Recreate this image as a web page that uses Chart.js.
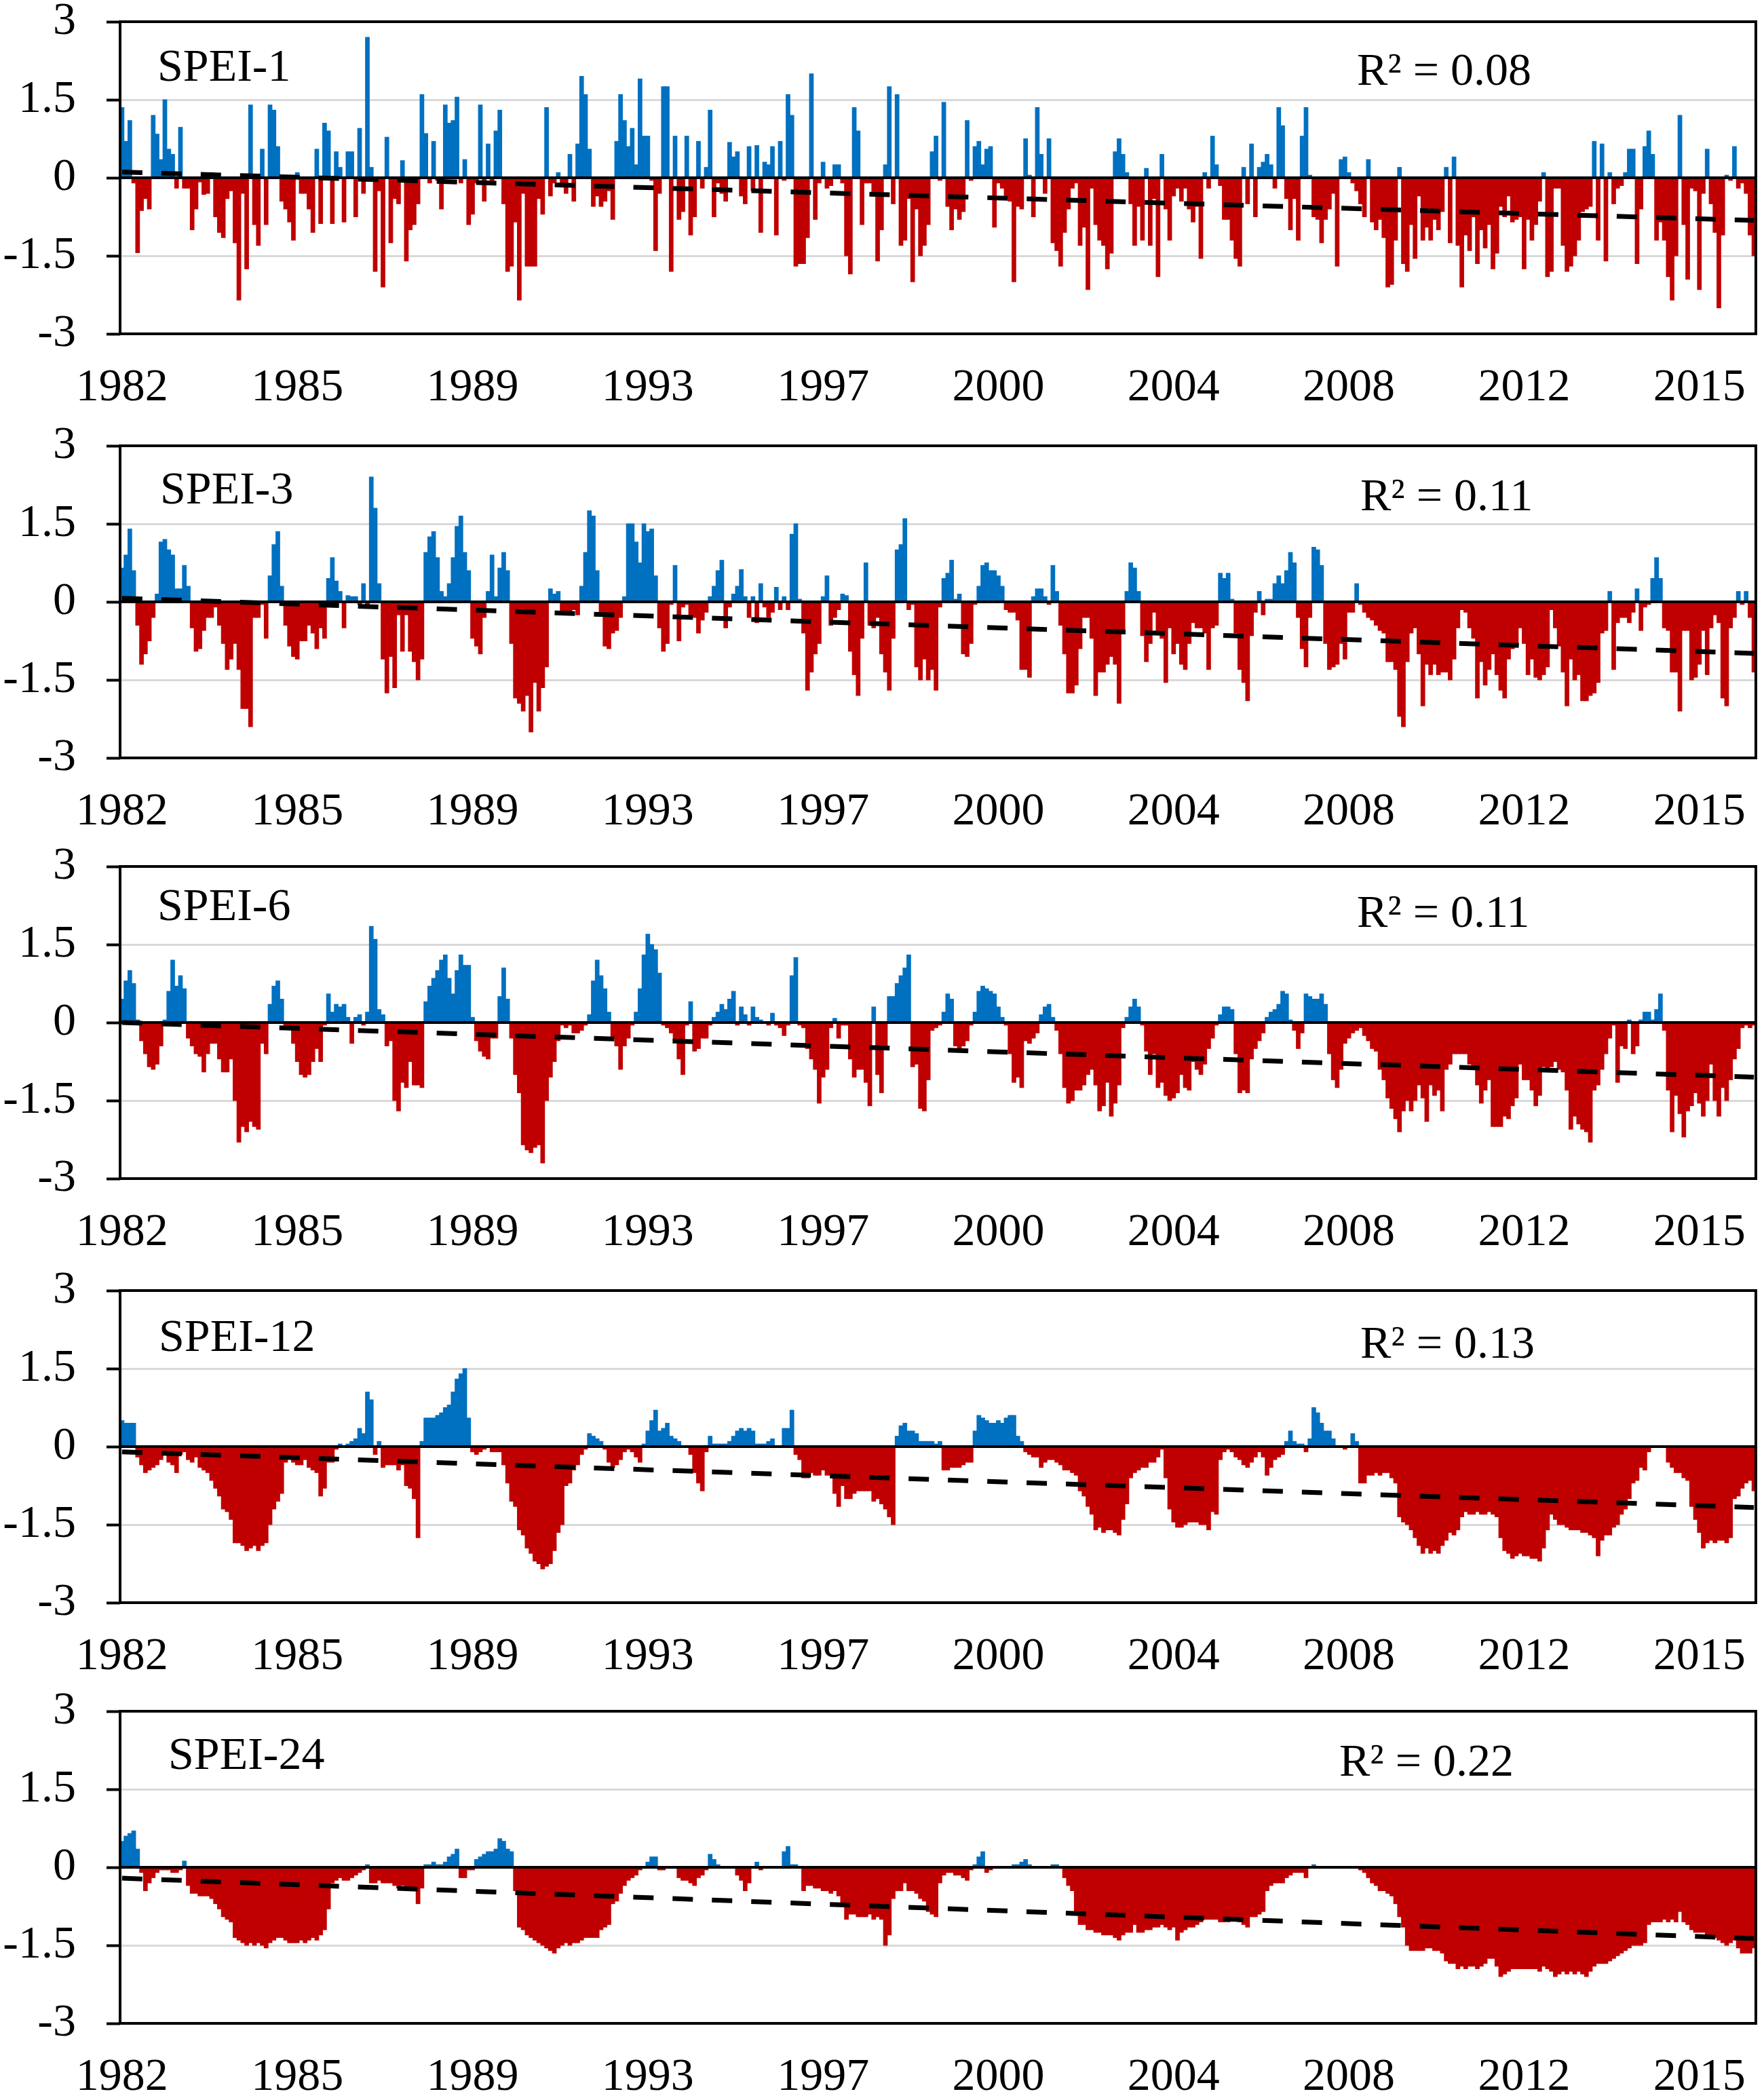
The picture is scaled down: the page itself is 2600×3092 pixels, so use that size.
<!DOCTYPE html>
<html>
<head>
<meta charset="utf-8">
<script src="https://cdn.jsdelivr.net/npm/chart.js@4.4.0/dist/chart.umd.min.js"></script>
<style>
  body { margin: 0; width: 2600px; height: 3092px; overflow: hidden; background: #fff; }
  canvas { position: absolute; left: 0; }
</style>
</head>
<body>
<canvas id="c0" width="2600" height="622" style="top:0px"></canvas>
<canvas id="c1" width="2600" height="622" style="top:625px"></canvas>
<canvas id="c2" width="2600" height="622" style="top:1245px"></canvas>
<canvas id="c3" width="2600" height="622" style="top:1870px"></canvas>
<canvas id="c4" width="2600" height="622" style="top:2490px"></canvas>
<script>
// monthly SPEI values, Jan 1982 .. Dec 2016 (420 months)
const monthCount = 420;
const firstYear = 1982;
const yearTicks = ['1982', '1985', '1989', '1993', '1997', '2000', '2004', '2008', '2012', '2015'];
const tickEvery = 45;

const panelNames = ['SPEI-1', 'SPEI-3', 'SPEI-6', 'SPEI-12', 'SPEI-24'];
const r2Values = ['0.08', '0.11', '0.11', '0.13', '0.22'];
const trendStart = [0.11, 0.07, 0.0, -0.1, -0.21];
const trendEnd = [-0.82, -0.99, -1.05, -1.17, -1.37];

const spei1 = [
  1.35,0.7,1.1,-0.1,-1.44,-0.63,-0.4,-0.6,1.2,0.84,0.35,1.5,0.55,0.45,-0.2,0.97,-0.2,-0.2,-1.0,-0.6,
  -0.08,-0.32,-0.3,0.1,-0.75,-1.05,-1.15,-0.4,-0.25,-1.25,-2.35,-0.3,-1.75,1.4,-0.9,-1.3,0.55,-0.9,1.4,
  1.3,0.6,-0.45,-0.6,-0.85,-1.2,0.1,-0.3,-0.3,-0.6,-1.05,0.55,-0.88,1.05,0.9,-0.88,0.5,0.2,-0.85,0.5,
  0.5,-0.75,0.95,-0.3,2.7,0.2,-1.8,-0.25,-2.1,0.78,-1.25,-0.4,-0.5,0.33,-1.6,-1.0,-0.9,-0.5,1.6,0.85,
  -0.1,0.7,-0.05,-0.6,1.4,1.05,1.1,1.55,-0.1,0.35,-0.9,-0.7,-0.1,1.4,-0.45,0.65,-0.1,0.9,1.3,-0.5,
  -1.8,-1.7,-0.85,-2.35,-0.3,-1.7,-1.7,-1.7,-0.4,-0.7,1.35,-0.35,-0.1,0.1,-0.15,-0.3,0.45,-0.45,0.65,
  1.95,1.6,0.55,-0.55,-0.35,-0.55,-0.45,-0.25,-0.8,0.7,1.6,1.1,0.6,0.95,0.25,1.9,0.8,0.8,-0.05,-1.4,
  -0.3,1.75,1.75,-1.8,0.8,-0.8,-0.65,0.8,-1.1,-0.75,0.7,-0.2,0.2,1.3,-0.75,-0.1,-0.3,-0.45,0.68,0.4,
  0.5,-0.35,-0.5,0.6,-0.25,0.62,-1.05,0.3,0.25,0.6,-1.1,0.7,-0.05,1.6,1.2,-1.7,-1.65,-1.65,-1.15,2.0,
  -0.8,-0.1,0.3,-0.2,-0.15,0.25,0.25,-0.1,-1.5,-1.85,1.35,0.9,-0.9,-0.1,-0.1,-0.3,-1.6,-1.0,
  0.25,1.75,-0.5,1.6,-1.3,-1.2,-0.4,-2.0,-0.6,-1.5,
  -1.3,-0.9,0.5,0.8,-0.05,1.45,-0.55,-1.0,-0.6,-0.8,
  -0.65,1.1,-0.05,0.6,0.7,0.25,0.55,0.6,-0.95,-0.1,
  -0.2,-0.4,-0.45,-2.0,-0.55,-0.6,0.75,0.05,-0.75,1.35,
  0.45,-0.3,0.75,-1.25,-1.4,-1.7,-1.05,-0.6,-0.2,-0.1,
  -1.3,-0.95,-2.15,-0.2,-0.9,-1.2,-1.3,-1.75,-1.45,0.5,
  0.75,0.45,0.1,-0.5,-1.3,-0.55,-1.2,0.18,-1.3,-0.4,
  -1.9,0.45,-0.6,-1.2,-0.35,-0.2,-0.45,-0.2,-0.6,-0.85,
  -0.55,-1.55,0.1,-0.2,0.8,0.25,-0.15,-0.8,-0.8,-1.2,
  -1.55,-1.7,0.2,-0.5,0.65,-0.75,0.2,0.3,0.45,0.25,
  -0.2,1.35,1.0,-0.4,-1.0,-0.4,-1.2,0.8,1.35,0.05,
  -0.75,-0.8,-1.25,-0.8,-0.6,-0.3,-1.7,0.35,0.4,0.1,
  -0.1,-0.25,-0.5,-0.75,0.35,-0.85,-1.0,-0.8,-1.15,-2.1,
  -2.05,-1.2,0.2,-1.65,-1.8,-0.9,-1.55,-0.35,-1.2,-0.95,
  -1.2,-0.8,-1.0,-0.65,0.2,-1.25,0.4,-1.3,-2.1,-1.1,
  -1.4,-0.75,-1.65,-1.0,-1.35,-0.9,-1.75,-1.45,-0.55,-0.75,
  -0.35,-0.85,-0.8,-0.75,-1.75,-0.8,-1.2,-0.9,-0.45,0.1,
  -1.9,-1.8,-0.2,-0.2,-1.3,-1.8,-1.7,-1.5,-1.2,-0.65,
  -0.6,-0.55,0.7,-1.2,0.65,-1.6,0.1,-0.5,-0.2,-0.15,
  0.1,0.55,0.55,-1.65,-0.6,0.6,0.9,0.45,-1.2,-0.85,
  -1.2,-1.9,-2.35,-1.5,1.2,-0.9,-1.95,-0.2,-0.25,-2.15,
  -0.3,0.55,-0.5,-1.05,-2.5,-1.1,0.05,-0.05,0.6,-0.2,
  -0.1,-0.3,-1.1,-1.5
];

const spei3 = [
  0.65,0.9,1.4,0.6,-0.45,-1.2,-1.0,-0.75,-0.3,0.15,
  1.15,1.2,1.0,0.9,0.25,0.25,0.7,0.3,-0.5,-0.95,
  -0.9,-0.55,-0.3,-0.3,-0.1,-0.45,-0.8,-1.3,-1.1,-0.8,
  -1.3,-2.05,-2.05,-2.4,-0.3,-0.3,-0.05,-0.7,0.5,1.1,
  1.35,0.3,-0.45,-0.85,-1.05,-1.1,-0.75,-0.75,-0.45,-0.6,
  -0.9,-0.5,-0.7,0.45,0.85,0.4,0.2,-0.5,0.12,0.1,
  0.1,-0.05,0.35,-0.1,2.4,1.8,0.35,-1.1,-1.75,-1.05,
  -1.65,-0.25,-0.95,-0.25,-0.95,-1.15,-1.5,-1.1,0.95,1.25,
  1.35,0.85,0.2,0.1,0.35,0.85,1.45,1.65,0.95,0.6,
  -0.7,-0.85,-1.0,-0.3,0.2,0.9,0.1,0.65,0.95,0.6,
  -0.8,-1.85,-1.95,-2.1,-1.8,-2.5,-1.55,-2.1,-1.65,-1.25,
  0.25,0.15,0.2,-0.2,-0.25,-0.2,-0.15,-0.25,0.3,
  0.95,1.75,1.65,0.6,-0.25,-0.85,-0.9,-0.6,-0.55,-0.3,
  0.1,1.5,1.5,1.15,0.75,1.5,1.35,1.4,0.5,-0.5,
  -0.95,-0.8,-0.05,0.7,-0.75,-0.1,-0.05,-0.3,-0.3,-0.6,
  -0.35,-0.2,0.1,0.3,0.6,0.8,-0.5,-0.1,0.15,0.3,
  0.62,0.1,-0.3,0.1,-0.4,0.35,-0.1,-0.3,-0.2,0.28,
  -0.15,0.1,-0.15,1.3,1.5,0.05,-0.6,-1.7,-1.35,-1.0,
  -0.8,0.1,0.5,-0.45,-0.3,-0.15,0.15,0.12,-0.95,-1.4,
  -1.8,-0.7,0.75,-0.45,-0.5,-0.3,-1.0,
  -1.35,-1.7,-0.7,1.0,1.1,1.6,-0.15,-0.05,-1.25,-1.5,
  -1.1,-1.5,-1.3,-1.7,-0.1,0.45,0.55,0.8,0.05,0.15,
  -1.0,-1.05,-0.8,-0.05,0.3,0.7,0.75,0.6,0.6,0.5,
  0.3,-0.15,-0.2,-0.2,-0.35,-1.3,-1.3,-1.45,0.1,0.25,
  0.25,0.1,-0.05,0.7,0.2,-0.45,-1.0,-1.75,-1.75,-1.6,
  -0.9,-0.3,-0.3,-0.7,-1.8,-1.35,-1.35,-1.2,-1.05,-1.2,
  -1.95,-0.6,0.2,0.75,0.65,0.2,-0.65,-1.15,-0.8,-0.2,
  -0.6,-0.7,-1.55,-0.5,-1.0,-0.8,-1.2,-1.3,-0.8,-0.4,
  -0.5,-0.5,-0.6,-1.3,-0.5,-0.45,0.55,0.45,0.55,0.05,
  -0.6,-1.3,-1.55,-1.9,-0.65,-0.2,0.2,-0.25,0.05,0.05,
  0.35,0.5,0.35,0.6,0.95,0.75,-0.3,-0.9,-1.25,-0.3,
  1.05,1.0,0.7,-0.8,-1.3,-1.25,-1.2,-0.8,-1.1,-0.2,
  -0.2,0.35,-0.05,-0.2,-0.3,-0.35,-0.45,-0.55,-0.6,-1.15,
  -1.15,-1.3,-2.2,-2.4,-1.15,-0.6,-0.5,-1.0,-2.0,-1.2,
  -1.4,-1.2,-1.4,-1.35,-1.35,-1.5,-1.1,-0.5,-0.15,-0.2,
  -0.5,-0.7,-1.85,-1.15,-1.6,-1.3,-1.0,-1.4,-1.7,-1.85,
  -1.1,-0.9,-0.8,-0.5,-0.8,-1.4,-1.1,-1.45,-1.5,-1.4,
  -1.25,-0.15,-0.5,-0.85,-1.35,-2.0,-1.1,-1.5,-1.4,-1.9,
  -1.9,-1.8,-1.75,-1.55,-0.6,-0.55,0.2,-1.3,-0.4,-0.3,
  -0.3,-0.4,-0.2,0.25,-0.55,-0.1,-0.05,0.45,0.85,0.45,
  -0.5,-0.55,-1.35,-1.35,-2.1,-0.55,-0.55,-1.5,-1.45,-1.2,
  -0.55,-1.4,-0.5,-0.25,-0.4,-1.85,-2.0,-0.5,-0.3,0.2,
  -0.05,0.2,-0.3,-1.35
];

const spei6 = [
  0.45,0.8,1.0,0.75,0.05,-0.35,-0.6,-0.85,-0.9,-0.8,
  -0.45,0.05,0.6,1.2,0.7,0.9,0.65,-0.3,-0.45,-0.6,
  -0.65,-0.95,-0.6,-0.4,-0.4,-0.7,-0.95,-0.95,-0.7,-1.5,
  -2.3,-2.0,-2.1,-1.9,-2.0,-2.05,-0.4,-0.6,0.35,0.7,
  0.8,0.45,-0.1,-0.1,-0.4,-0.75,-1.0,-1.05,-1.0,-0.75,
  -0.5,-0.75,-0.05,0.55,0.2,0.35,0.3,0.35,0.1,-0.4,
  0.1,0.15,-0.05,0.2,1.85,1.6,0.25,0.15,-0.45,-0.35,
  -1.5,-1.7,-1.15,-1.25,-0.75,-1.2,-1.2,-1.25,0.4,0.7,
  0.85,1.0,1.2,1.3,0.85,0.55,1.0,1.3,1.1,1.1,
  0.1,-0.35,-0.55,-0.65,-0.7,-0.3,-0.3,0.5,1.05,0.45,
  -0.3,-1.0,-1.35,-2.35,-2.45,-2.5,-2.4,-2.35,-2.7,-1.5,
  -1.05,-0.75,-0.35,-0.05,-0.1,-0.05,-0.2,-0.2,-0.15,-0.05,
  0.15,0.8,1.2,0.9,0.65,0.2,-0.3,-0.45,-0.9,-0.45,
  -0.3,-0.05,0.2,0.65,1.3,1.7,1.5,1.4,0.95,-0.05,
  -0.1,-0.2,-0.35,-0.7,-1.0,-0.05,0.4,-0.55,-0.5,-0.3,
  -0.3,-0.05,0.1,0.2,0.35,0.25,0.45,0.6,-0.05,0.3,
  0.15,-0.05,0.3,0.1,0.05,-0.02,-0.05,0.18,-0.05,-0.1,
  -0.25,-0.05,0.9,1.25,-0.05,-0.1,-0.5,-0.7,-0.9,-1.55,
  -1.05,-0.9,-0.1,0.08,-0.3,-0.05,-0.05,-0.7,-1.05,-0.9,
  -0.9,-1.15,-1.6,0.3,
  -1.0,-1.35,-0.45,0.5,0.5,0.75,0.9,1.05,1.3,-0.85,
  -0.8,-1.65,-1.7,-1.1,-0.15,-0.1,-0.05,0.2,0.55,0.45,
  -0.45,-0.5,-0.45,-0.35,-0.05,0.2,0.6,0.7,0.65,0.6,
  0.55,0.3,0.1,-0.05,-0.6,-1.15,-1.05,-1.25,-0.35,-0.4,-0.3,
  -0.2,0.15,0.3,0.35,0.1,-0.15,-0.6,-1.25,-1.55,-1.5,
  -1.3,-1.3,-1.2,-1.0,-0.9,-1.2,-1.7,-1.6,-1.15,-1.8,
  -1.55,-1.2,-0.1,0.1,0.3,0.45,0.3,-0.05,-0.55,-1.0,
  -0.6,-1.25,-1.15,-1.4,-1.5,-1.45,-1.35,-1.0,-1.25,-1.3,
  -0.75,-0.9,-1.0,-0.8,-0.5,-0.3,-0.05,0.15,0.3,0.3,0.25,
  -0.6,-1.35,-1.3,-1.35,-0.7,-0.5,-0.35,-0.2,0.1,0.2,
  0.25,0.35,0.6,0.55,0.05,-0.15,-0.5,-0.2,0.55,0.5,
  0.45,0.45,0.55,0.35,-0.6,-1.1,-1.25,-0.9,-0.4,-0.3,
  -0.2,-0.15,-0.1,-0.25,-0.35,-0.5,-0.55,-0.9,-1.1,-1.45,-1.65,
  -1.85,-2.1,-1.7,-1.5,-1.7,-1.5,-1.2,-1.45,-1.9,-1.2,
  -1.4,-1.3,-1.7,-0.9,-0.8,-0.6,-0.6,-0.6,-0.6,-0.8,
  -0.9,-1.2,-1.55,-1.3,-1.1,-2.0,-2.0,-2.0,-1.8,-1.85,
  -1.6,-1.45,-0.8,-1.1,-1.1,-1.3,-1.6,-1.4,-0.85,-0.9,-0.85,
  -0.75,-0.9,-0.95,-1.3,-2.05,-1.8,-1.95,-2.05,-2.1,-2.3,
  -1.3,-1.2,-0.9,-0.6,-0.3,-0.05,-1.15,-0.45,-0.5,0.05,
  -0.6,-0.45,0.05,0.2,0.2,0.05,0.25,0.55,-0.15,-1.3,
  -2.1,-1.4,-1.75,-2.2,-1.7,-1.6,-1.35,-1.55,-1.8,-1.5,-0.8,
  -1.5,-1.8,-1.25,-1.5,-1.1,-0.7,-0.5,-0.1,-0.05,-0.1,-0.05
];

const spei12 = [
  0.5,0.45,0.45,0.45,-0.2,-0.35,-0.5,-0.45,-0.4,-0.35,
  -0.25,-0.1,-0.3,-0.35,-0.5,-0.15,-0.1,-0.25,-0.3,-0.2,
  -0.4,-0.45,-0.5,-0.65,-0.8,-0.95,-1.2,-1.25,-1.4,-1.85,
  -1.85,-1.9,-2.0,-1.95,-1.9,-2.0,-1.9,-1.85,-1.5,-1.2,
  -1.05,-0.9,-0.3,-0.2,-0.3,-0.35,-0.35,-0.25,-0.4,-0.45,
  -0.5,-0.95,-0.8,-0.3,-0.3,-0.05,0.05,0.02,0.05,0.1,
  0.15,0.35,0.25,1.05,0.9,-0.15,0.1,-0.4,-0.35,-0.35,
  -0.35,-0.45,-0.35,-0.75,-0.8,-1.0,-1.75,0.1,0.55,0.55,
  0.55,0.6,0.65,0.75,0.8,1.05,1.3,1.4,1.5,0.55,
  -0.1,-0.15,-0.1,-0.05,-0.02,-0.1,-0.1,-0.1,-0.35,-0.7,
  -1.05,-1.15,-1.6,-1.7,-1.95,-2.05,-2.2,-2.25,-2.35,-2.3,
  -2.25,-2.0,-1.65,-1.5,-0.75,-0.7,-0.45,-0.35,-0.15,-0.05,
  0.25,0.2,0.15,0.1,-0.05,-0.3,-0.4,-0.35,-0.25,-0.1,
  -0.05,-0.1,-0.2,-0.3,0.05,0.3,0.5,0.7,0.3,0.35,
  0.45,0.2,0.15,0.1,0.02,0.01,-0.15,-0.5,-0.7,-0.85,
  -0.1,0.2,0.05,0.05,0.05,0.05,0.1,0.2,0.3,0.35,
  0.3,0.35,0.3,0.05,0.05,0.05,0.1,0.15,0.01,-0.02,
  0.35,0.35,0.7,-0.15,-0.25,-0.6,-0.6,-0.5,-0.55,-0.55,
  -0.45,-0.55,-0.55,-0.9,-1.15,-0.75,-1.0,-1.0,-0.9,-0.85,
  -0.85,-0.85,-0.85,-1.05,-1.0,
  -1.1,-1.2,-1.35,-1.5,
  0.2,0.4,0.45,0.3,0.3,0.25,0.1,0.1,0.1,0.1,0.05,0.1,
  -0.45,-0.45,-0.4,-0.4,-0.4,-0.35,-0.3,-0.3,
  0.3,0.6,0.55,0.5,0.45,0.45,0.5,0.45,0.55,0.6,0.6,0.2,0.1,
  -0.1,
  -0.15,-0.2,-0.2,-0.4,-0.3,-0.25,-0.25,-0.3,-0.35,-0.45,
  -0.45,-0.5,-0.55,-0.85,-0.95,-1.15,-1.3,-1.6,-1.55,-1.65,
  -1.6,-1.6,-1.65,-1.7,-1.4,-1.1,-0.6,-0.5,-0.45,-0.4,
  -0.4,-0.3,-0.3,-0.2,-0.05,
  -0.6,-1.2,-1.45,-1.55,-1.55,-1.5,-1.45,-1.45,-1.45,-1.5,
  -1.5,-1.6,-1.25,-1.3,-0.25,-0.1,-0.05,-0.1,-0.2,-0.25,
  -0.35,-0.4,-0.3,-0.2,-0.1,-0.2,-0.55,-0.4,-0.25,-0.2,
  -0.15,0.1,0.3,0.1,0.05,0.05,-0.1,
  0.15,0.75,0.65,0.45,0.3,0.3,0.15,0.02,0.02,-0.05,0.01,0.25,0.1,
  -0.7,-0.7,-0.55,-0.55,-0.5,-0.55,-0.5,-0.5,-0.6,-0.7,
  -1.35,-1.45,-1.5,-1.6,-1.75,-1.9,-2.05,-1.95,-2.05,-2.0,
  -2.05,-1.9,-1.8,-1.65,-1.7,-1.6,-1.35,-1.25,-1.3,-1.3,
  -1.25,-1.3,-1.3,-1.25,-1.3,-1.35,-1.75,-2.0,-2.05,-2.15,
  -2.1,-2.05,-2.1,-2.1,-2.15,-2.15,-2.2,-1.95,-1.6,-1.3,
  -1.4,-1.5,-1.5,-1.55,-1.6,-1.6,-1.6,-1.65,-1.65,-1.7,
  -1.75,-2.1,-1.8,-1.7,-1.7,-1.55,-1.5,-1.3,-1.2,-1.0,
  -0.7,-0.65,-0.4,-0.45,-0.1,
  0,0,0,0,
  -0.3,-0.4,-0.5,-0.5,-0.6,-0.65,-1.15,-1.4,-1.65,-1.95,
  -1.85,-1.8,-1.85,-1.8,-1.8,-1.85,-1.75,-1.0,-0.95,-0.8,
  -0.7,-0.65,-0.85
];

const spei24 = [
  0.5,0.6,0.65,0.7,0.35,-0.1,-0.45,-0.3,-0.2,-0.1,
  -0.05,-0.05,-0.05,-0.1,-0.1,-0.05,0.12,-0.35,-0.5,-0.5,
  -0.55,-0.55,-0.55,-0.6,-0.7,-0.8,-0.95,-1.0,-1.05,-1.35,
  -1.4,-1.45,-1.5,-1.45,-1.5,-1.45,-1.5,-1.55,-1.45,-1.4,
  -1.35,-1.35,-1.4,-1.45,-1.45,-1.45,-1.4,-1.45,-1.4,-1.35,
  -1.4,-1.3,-1.2,-0.8,-0.3,-0.25,-0.2,-0.25,-0.25,-0.2,
  -0.15,-0.1,-0.05,0.05,-0.3,-0.3,-0.25,-0.3,-0.3,-0.3,
  -0.35,-0.4,-0.35,-0.4,-0.4,-0.45,-0.7,-0.4,0.05,0.05,
  0.1,0.05,0.05,0.1,0.2,0.25,0.35,-0.2,-0.2,-0.05,
  -0.05,0.15,0.2,0.25,0.3,0.3,0.35,0.55,0.5,0.35,
  0.3,-0.45,-1.15,-1.2,-1.3,-1.35,-1.4,-1.45,-1.5,-1.55,
  -1.6,-1.65,-1.55,-1.5,-1.45,-1.5,-1.45,-1.45,-1.4,-1.35,
  -1.35,-1.35,-1.35,-1.2,-1.15,-1.1,-0.7,-0.65,-0.5,-0.35,
  -0.25,-0.2,-0.15,-0.05,0.0,0.1,0.2,0.2,-0.05,-0.05,
  0.0,-0.02,0.0,-0.2,-0.25,-0.25,-0.3,-0.35,-0.2,-0.15,
  -0.05,0.25,0.15,0.05,0.02,0.0,0.0,0.0,-0.15,-0.25,
  -0.45,-0.3,0.0,0.1,-0.05,0.0,0.0,0.0,0.0,0.0,
  0.3,0.4,0.05,0.05,0.0,-0.45,-0.35,-0.35,-0.4,-0.4,
  -0.45,-0.45,-0.5,-0.45,-0.55,-0.75,-1.0,-0.9,-0.9,-0.95,
  -0.95,-0.95,-0.9,-1.0,
  -0.95,-1.0,-1.5,-1.3,-0.6,-0.45,-0.45,-0.3,-0.45,-0.45,
  -0.5,-0.6,-0.65,-0.85,-0.9,-0.95,-0.3,-0.15,-0.1,-0.1,
  -0.15,-0.15,-0.2,-0.25,-0.05,0.05,0.2,0.3,-0.1,-0.05,
  0.0,-0.02,0.0,0.0,0.0,0.05,0.05,0.1,0.15,0.05,
  0.0,0.0,0.0,0.0,0.0,0.05,0.05,0.0,-0.2,-0.35,
  -0.45,-0.9,-1.1,-1.1,-1.2,-1.2,-1.25,-1.25,-1.3,-1.3,
  -1.3,-1.35,-1.4,-1.3,-1.25,-1.25,-1.1,-1.25,-1.25,-1.2,
  -1.2,-1.15,-1.15,-1.1,-1.15,-1.2,-1.15,-1.4,-1.25,-1.2,
  -1.15,-1.15,-1.1,-1.05,-1.0,-1.0,-1.0,-1.0,-1.05,-1.05,
  -1.05,-1.0,-1.0,-1.05,-1.1,-1.15,-0.95,-0.95,-0.9,-0.85,
  -0.45,-0.35,-0.3,-0.3,-0.3,-0.2,-0.15,-0.1,-0.1,-0.1,
  -0.2,-0.02,0.05,-0.02,0.0,-0.02,0.0,-0.02,0.02,-0.02,
  -0.02,0.0,0.02,-0.02,-0.05,-0.1,-0.2,-0.3,-0.35,-0.45,
  -0.45,-0.5,-0.55,-0.7,-0.95,-1.15,-1.5,-1.6,-1.6,-1.6,
  -1.6,-1.55,-1.55,-1.6,-1.6,-1.65,-1.8,-1.85,-1.85,-1.95,
  -1.9,-1.95,-1.9,-1.9,-1.95,-1.9,-1.85,-1.75,-1.75,-1.9,
  -2.1,-2.05,-2.0,-1.95,-1.95,-1.95,-1.95,-1.95,-1.95,-1.95,
  -2.0,-1.9,-1.95,-2.0,-2.1,-2.05,-2.0,-2.05,-2.0,-2.05,
  -2.0,-2.05,-2.1,-2.0,-1.9,-1.85,-1.85,-1.85,-1.8,-1.75,
  -1.7,-1.65,-1.6,-1.55,-1.5,-1.5,-1.5,-1.45,-1.1,-1.05,
  -1.05,-1.05,-1.0,-1.05,-1.0,-1.05,-0.85,-1.05,-1.1,-1.2,
  -1.25,-1.25,-1.25,-1.3,-1.3,-1.35,-1.4,-1.45,-1.5,-1.45,
  -1.4,-1.55,-1.65,-1.65,-1.65,-1.55
];

const series = [spei1, spei3, spei6, spei12, spei24];

// where the two captions sit inside each plot box (px from plot top-left)
const captionPos = [
  { nameX: 55, nameY: 69, r2X: 1823, r2Y: 75 },
  { nameX: 59, nameY: 67, r2X: 1828, r2Y: 77 },
  { nameX: 55, nameY: 61, r2X: 1823, r2Y: 71 },
  { nameX: 57, nameY: 71, r2X: 1828, r2Y: 81 },
  { nameX: 71, nameY: 67, r2X: 1797, r2Y: 77 }
];

const BLUE = '#0070c0';
const RED = '#c00000';
const FONT = "'Liberation Serif', 'Times New Roman', serif";

Chart.defaults.font.family = FONT;
Chart.defaults.font.size = 68;
Chart.defaults.color = '#000';

const labels = [];
for (let i = 0; i < monthCount; i++) {
  labels.push((firstYear + Math.floor(i / 12)) + '-' + (i % 12 + 1));
}

const framePlugin = {
  id: 'frame',
  afterDatasetsDraw(chart, args, opts) {
    const ctx = chart.ctx;
    const a = chart.chartArea;
    const y0 = chart.scales.y.getPixelForValue(0);
    ctx.save();
    ctx.strokeStyle = '#000';
    ctx.lineWidth = 4;
    ctx.beginPath();
    ctx.moveTo(a.left, y0);
    ctx.lineTo(a.right, y0);
    ctx.stroke();
    ctx.strokeRect(a.left, a.top, a.right - a.left, a.bottom - a.top);
    ctx.fillStyle = '#000';
    ctx.font = '68px ' + FONT;
    ctx.textBaseline = 'middle';
    ctx.textAlign = 'left';
    ctx.fillText(opts.name, a.left + opts.pos.nameX, a.top + opts.pos.nameY);
    ctx.fillText('R\u00b2 = ' + opts.r2, a.left + opts.pos.r2X, a.top + opts.pos.r2Y);
    ctx.restore();
  }
};

function drawPanel(k) {
  const values = series[k];
  const trend = new Array(monthCount).fill(null);
  trend[0] = trendStart[k];
  trend[monthCount - 1] = trendEnd[k];

  new Chart(document.getElementById('c' + k), {
    type: 'bar',
    data: {
      labels: labels,
      datasets: [
        {
          type: 'line',
          data: trend,
          borderColor: '#000',
          borderWidth: 7,
          borderDash: [30, 28],
          pointRadius: 0,
          spanGaps: true,
          fill: false,
          order: 0
        },
        {
          type: 'bar',
          data: values,
          backgroundColor: values.map(v => v >= 0 ? BLUE : RED),
          borderWidth: 0,
          barPercentage: 1,
          categoryPercentage: 1,
          inflateAmount: 0.5,
          order: 1
        }
      ]
    },
    options: {
      responsive: false,
      animation: false,
      devicePixelRatio: 1,
      layout: { padding: { top: 32, right: 12, left: 0, bottom: 0 } },
      plugins: {
        legend: { display: false },
        tooltip: { enabled: false },
        frame: { name: panelNames[k], r2: r2Values[k], pos: captionPos[k] }
      },
      scales: {
        x: {
          grid: { display: false, drawTicks: false },
          border: { display: false },
          ticks: {
            autoSkip: false,
            maxRotation: 0,
            minRotation: 0,
            padding: 39,
            callback: (v, i) => i % tickEvery === 0 ? yearTicks[i / tickEvery] : ''
          },
          afterFit: s => { s.height = 130; s.paddingLeft = 0; s.paddingRight = 0; }
        },
        y: {
          min: -3,
          max: 3,
          ticks: { stepSize: 1.5, padding: 45, callback: v => String(v) },
          grid: {
            color: c => (c.tick && Math.abs(c.tick.value) === 1.5) ? '#d9d9d9' : 'rgba(0,0,0,0)',
            lineWidth: 3,
            tickColor: '#000',
            tickWidth: 4,
            tickLength: 20
          },
          border: { display: false },
          afterFit: s => { s.width = 177; s.paddingTop = 0; s.paddingBottom = 0; }
        }
      }
    },
    plugins: [framePlugin]
  });
}

for (let k = 0; k < series.length; k++) {
  drawPanel(k);
}

const bad = series.map((s, k) => panelNames[k] + ':' + s.length).filter((t, k) => series[k].length !== monthCount);
if (bad.length) {
  throw new Error('length mismatch ' + bad.join(' '));
}
</script>
</body>
</html>
